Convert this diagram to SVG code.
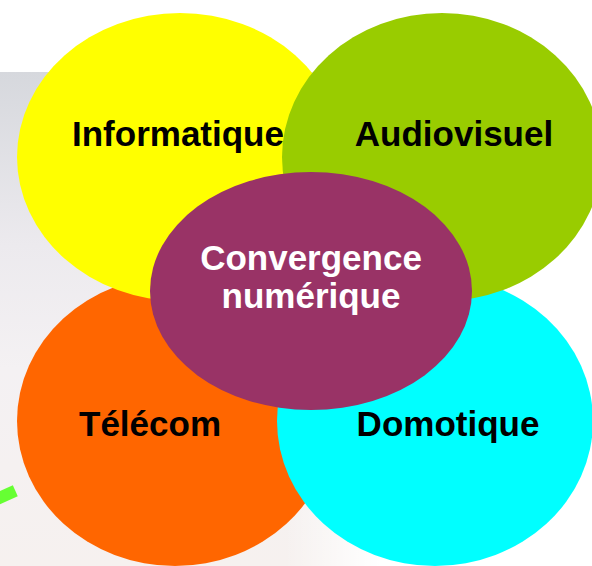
<svg xmlns="http://www.w3.org/2000/svg" width="592" height="566" viewBox="0 0 592 566">
<style>
.lbl{font-family:"Liberation Sans",Arial,sans-serif;font-weight:bold;font-size:35px;text-anchor:middle;fill:#000}
.w{fill:#fff}
</style>
<defs>
<linearGradient id="bgv" x1="0" y1="0" x2="0" y2="1">
<stop offset="0" stop-color="#d6d8dd"/>
<stop offset="0.35" stop-color="#eceaee"/>
<stop offset="0.6" stop-color="#f4f1f3"/>
<stop offset="1" stop-color="#f6f1ef"/>
</linearGradient>
<linearGradient id="fade" x1="0" y1="0" x2="1" y2="0">
<stop offset="0" stop-color="#fff" stop-opacity="0"/>
<stop offset="0.75" stop-color="#fff" stop-opacity="0"/>
<stop offset="1" stop-color="#fff" stop-opacity="1"/>
</linearGradient>
</defs>
<rect width="592" height="566" fill="#fff"/>
<g id="background">
<rect x="0" y="72" width="380" height="494" fill="url(#bgv)"/>
<rect x="0" y="72" width="380" height="494" fill="url(#fade)"/>
<rect x="-10" y="488" width="26" height="12" fill="#66ff33" transform="rotate(-24 8 494)"/>
</g>
<g id="telecom">
<ellipse cx="175" cy="421" rx="158" ry="145" fill="#ff6600"/>
<text class="lbl" x="150" y="436">Télécom</text>
</g>
<g id="domotique">
<ellipse cx="435" cy="421" rx="158" ry="145" fill="#00ffff"/>
<text class="lbl" x="448" y="436">Domotique</text>
</g>
<g id="informatique">
<ellipse cx="180" cy="157" rx="163" ry="144" fill="#ffff00"/>
<text class="lbl" x="178" y="146">Informatique</text>
</g>
<g id="audiovisuel">
<ellipse cx="442" cy="157" rx="160" ry="144" fill="#99cc00"/>
<text class="lbl" x="454" y="146">Audiovisuel</text>
</g>
<g id="convergence">
<ellipse cx="311" cy="291" rx="161" ry="119" fill="#993366"/>
<text class="lbl w" x="311" y="270">Convergence</text>
<text class="lbl w" x="311" y="308">numérique</text>
</g>
<g id="connectors"/>
</svg>
